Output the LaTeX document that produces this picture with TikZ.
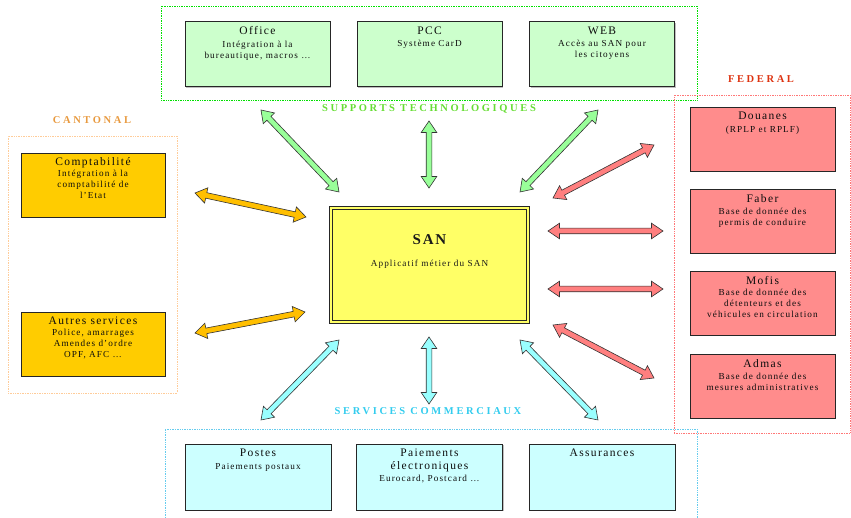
\documentclass[tikz,border=0pt]{standalone}
\usepackage{fontspec}
\setmainfont[LetterSpace=12]{Liberation Serif}
\newfontfamily\grpfont[LetterSpace=25]{Liberation Serif}
\usetikzlibrary{calc,shadows}
\definecolor{gfill}{HTML}{CCFFCC}
\definecolor{garrow}{HTML}{99FF99}
\definecolor{gdot}{HTML}{00E000}
\definecolor{glabel}{HTML}{66DD33}
\definecolor{ofill}{HTML}{FFCC00}
\definecolor{oarrow}{HTML}{FFBF00}
\definecolor{odot}{HTML}{FFCC99}
\definecolor{olabel}{HTML}{E89A40}
\definecolor{rfill}{HTML}{FF8C8C}
\definecolor{rarrow}{HTML}{FF7F7F}
\definecolor{rdot}{HTML}{FF7777}
\definecolor{rlabel}{HTML}{DD3311}
\definecolor{cfill}{HTML}{CCFFFF}
\definecolor{carrow}{HTML}{99FFFF}
\definecolor{cdot}{HTML}{66CCEE}
\definecolor{clabel}{HTML}{33CCEE}
\definecolor{sanyellow}{HTML}{FFFF66}
\definecolor{sanshadow}{HTML}{808040}
\newcommand\subfont{\fontsize{9.2}{11}\selectfont}
\newcommand\ttl[1]{{\fontsize{11.5}{12}\selectfont #1}}
\newcommand\dblarrow[3]{%
  \draw[arrowline, fill=#3] let \p1=(#1), \p2=(#2),
    \n1={atan2(\y2-\y1,\x2-\x1)}, \n2={veclen(\x2-\x1,\y2-\y1)} in
    [shift={(\p1)}, rotate=\n1]
    (0pt,0pt) -- (11.5pt,7.8pt) -- (11.5pt,2.8pt) -- (\n2-11.5pt,2.8pt) -- (\n2-11.5pt,7.8pt)
    -- (\n2,0pt) -- (\n2-11.5pt,-7.8pt) -- (\n2-11.5pt,-2.8pt) -- (11.5pt,-2.8pt)
    -- (11.5pt,-7.8pt) -- cycle;}
\tikzset{
  box/.style={draw=black!85, line width=0.9pt, minimum width=145pt, minimum height=65pt,
    inner sep=0pt, drop shadow={shadow xshift=1.2pt, shadow yshift=-1.2pt, fill=black!50}},
  gbox/.style={box, fill=gfill},
  obox/.style={box, fill=ofill},
  rbox/.style={box, fill=rfill},
  cbox/.style={box, fill=cfill},
  btext/.style={anchor=north, align=center, inner sep=0pt, font=\subfont, text=black!95},
  frame/.style={densely dotted, line width=0.7pt, inner sep=0pt},
  grp/.style={font=\grpfont\bfseries\fontsize{10.5}{12}\selectfont, inner sep=0pt},
  arrowline/.style={draw=black!80, line width=0.6pt, line join=miter},
  sanbox/.style={fill=sanyellow, draw=black!85, line width=0.8pt, double=sanyellow,
    double distance=2pt, minimum width=197pt, minimum height=114pt, inner sep=0pt,
    drop shadow={shadow xshift=2.2pt, shadow yshift=-2.2pt, fill=sanshadow, opacity=1}}
}
\begin{document}
\begin{tikzpicture}[x=1pt,y=-1pt]
\useasboundingbox (0,0) rectangle (851,518);
% frames
\node[frame, draw=gdot, minimum width=536pt, minimum height=94pt] (fsupports) at (429,53) {};
\node[frame, draw=odot, minimum width=169pt, minimum height=257pt] (fcantonal) at (92.5,264.5) {};
\node[frame, draw=rdot, minimum width=176pt, minimum height=338pt] (ffederal) at (762,264) {};
\node[frame, draw=cdot, minimum width=532pt, minimum height=101pt] (fservices) at (431,479.5) {};
% group labels
\node[grp, text=glabel] (lsupports) at (429,109) {SUPPORTS TECHNOLOGIQUES};
\node[grp, text=olabel] (lcantonal) at (92,120) {CANTONAL};
\node[grp, text=rlabel] (lfederal) at (761,79) {FEDERAL};
\node[grp, text=clabel] (lservices) at (428,411) {SERVICES COMMERCIAUX};
% green boxes
\node[gbox] (office) at (257.5,54) {};
\node[btext] (office-t) at ([yshift=-5.5pt]office.north) {\ttl{Office}\\[1.5pt]Intégration à la\\bureautique, macros …};
\node[gbox] (pcc) at (429.5,54) {};
\node[btext] (pcc-t) at ([yshift=-5.5pt]pcc.north) {\ttl{PCC}\\[1.5pt]Système CarD};
\node[gbox] (web) at (602,54) {};
\node[btext] (web-t) at ([yshift=-5.5pt]web.north) {\ttl{WEB}\\[1.5pt]Accès au SAN pour\\les citoyens};
% orange boxes
\node[obox, minimum width=144pt, minimum height=64pt] (compta) at (93,185) {};
\node[btext] (compta-t) at ([yshift=-5pt]compta.north) {\ttl{Comptabilité}\\Intégration à la\\comptabilité de\\l’Etat};
\node[obox, minimum width=144pt, minimum height=64pt] (autres) at (93,344) {};
\node[btext] (autres-t) at ([yshift=-5pt]autres.north) {\ttl{Autres services}\\Police, amarrages\\Amendes d’ordre\\OPF, AFC …};
% red boxes
\node[rbox, minimum height=64pt] (douanes) at (762.5,139) {};
\node[btext] (douanes-t) at ([yshift=-5.5pt]douanes.north) {\ttl{Douanes}\\[1.5pt](RPLP et RPLF)};
\node[rbox, minimum height=64pt] (faber) at (762.5,221) {};
\node[btext] (faber-t) at ([yshift=-5.5pt]faber.north) {\ttl{Faber}\\[1pt]Base de donnée des\\permis de conduire};
\node[rbox, minimum height=64pt] (mofis) at (762.5,303) {};
\node[btext] (mofis-t) at ([yshift=-5.5pt]mofis.north) {\ttl{Mofis}\\Base de donnée des\\détenteurs et des\\véhicules en circulation};
\node[rbox, minimum height=64pt] (admas) at (762.5,386) {};
\node[btext] (admas-t) at ([yshift=-5.5pt]admas.north) {\ttl{Admas}\\[1pt]Base de donnée des\\mesures administratives};
% cyan boxes
\node[cbox, minimum width=146pt, minimum height=66pt] (postes) at (258,477) {};
\node[btext] (postes-t) at ([yshift=-5.5pt]postes.north) {\ttl{Postes}\\[1.5pt]Paiements postaux};
\node[cbox, minimum width=146pt, minimum height=66pt] (paiements) at (429.5,477) {};
\node[btext] (paiements-t) at ([yshift=-5.5pt]paiements.north) {\ttl{Paiements}\\[1.5pt]\ttl{électroniques}\\[1.5pt]Eurocard, Postcard …};
\node[cbox, minimum width=146pt, minimum height=66pt] (assurances) at (602,477) {};
\node[btext] (assurances-t) at ([yshift=-5.5pt]assurances.north) {\ttl{Assurances}};
% SAN
\node[sanbox] (san) at (429.5,265) {};
\node[inner sep=0pt, font=\bfseries\fontsize{15}{15}\selectfont, text=black!90] (san-t) at (429.5,240) {SAN};
\node[inner sep=0pt, font=\subfont, text=black!90] (san-s) at (429.5,264) {Applicatif métier du SAN};
% arrow end points
\coordinate (g1a) at (261,110); \coordinate (g1b) at (339,192);
\coordinate (g2a) at (429,121); \coordinate (g2b) at (429,188);
\coordinate (g3a) at (598,110); \coordinate (g3b) at (520,192);
\coordinate (r1a) at (654,145); \coordinate (r1b) at (553,198);
\coordinate (r2a) at (548,231); \coordinate (r2b) at (663,231);
\coordinate (r3a) at (548,289); \coordinate (r3b) at (663,289);
\coordinate (r4a) at (553,325); \coordinate (r4b) at (654,378);
\coordinate (o1a) at (195,193); \coordinate (o1b) at (306,217);
\coordinate (o2a) at (195,333); \coordinate (o2b) at (305,312);
\coordinate (c1a) at (339,340); \coordinate (c1b) at (261,420);
\coordinate (c2a) at (429,337); \coordinate (c2b) at (429,404);
\coordinate (c3a) at (520,340); \coordinate (c3b) at (598,420);
% arrows
\dblarrow{g1a}{g1b}{garrow}
\dblarrow{g2a}{g2b}{garrow}
\dblarrow{g3a}{g3b}{garrow}
\dblarrow{r1a}{r1b}{rarrow}
\dblarrow{r2a}{r2b}{rarrow}
\dblarrow{r3a}{r3b}{rarrow}
\dblarrow{r4a}{r4b}{rarrow}
\dblarrow{o1a}{o1b}{oarrow}
\dblarrow{o2a}{o2b}{oarrow}
\dblarrow{c1a}{c1b}{carrow}
\dblarrow{c2a}{c2b}{carrow}
\dblarrow{c3a}{c3b}{carrow}
\end{tikzpicture}
\end{document}
